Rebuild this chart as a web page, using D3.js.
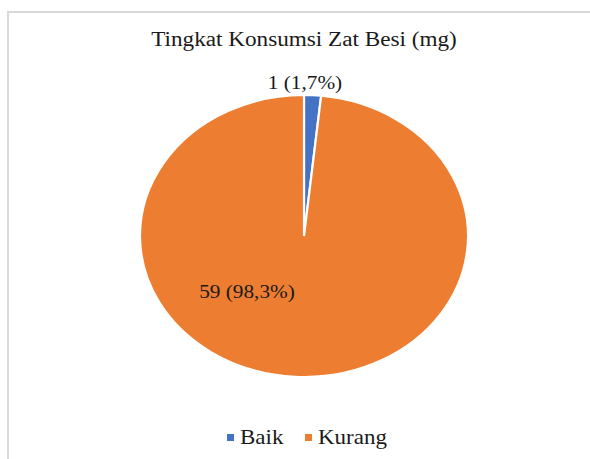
<!DOCTYPE html>
<html><head><meta charset="utf-8">
<script src="https://cdn.jsdelivr.net/npm/d3@7"></script>
<style>body{margin:0;background:#fff}svg{display:block}
text{font-family:"Liberation Serif","DejaVu Serif","Times New Roman",Times,serif}</style>
</head><body>
<svg id="c" width="590" height="459"></svg>
<script>
const title = "Tingkat Konsumsi Zat Besi (mg)";
const categories = ["Baik", "Kurang"];
const values = [1, 59];
const labels = ["1 (1,7%)", "59 (98,3%)"];
const colors = ["#4472C4", "#ED7D31"];

const svg = d3.select("#c");

// chart border
svg.append("rect").attr("x", 8).attr("y", 12).attr("width", 600).attr("height", 460)
  .attr("fill", "none").attr("stroke", "#d9d9d9").attr("stroke-width", 2);

function stretched(sel, x, y, size, sx, anchor) {
  return sel.append("text").attr("x", x).attr("y", y).attr("text-anchor", anchor)
    .attr("font-size", size).attr("fill", "#1a1a1a")
    .attr("transform", `translate(${x},0) scale(${sx},1) translate(${-x},0)`);
}

stretched(svg, 304, 46, 20, 1.16, "middle").text(title);

const cx = 304, cy = 236, rx = 164, ry = 141;
const pie = d3.pie().sort(null).value(d => d)(values);
const arc = d3.arc().innerRadius(0).outerRadius(rx);

const g = svg.append("g").attr("transform", `translate(${cx},${cy}) scale(1,${ry / rx})`);
g.selectAll("path").data(pie).join("path")
  .attr("d", arc)
  .attr("fill", (d, i) => colors[i])
  .attr("stroke", "#fff").attr("stroke-width", 2.2)
  .attr("vector-effect", "non-scaling-stroke");

// labels: first outside the top, second inside (best fit)
const labelPos = [[310, 89], [247, 298]];
labels.forEach((t, i) => stretched(svg, labelPos[i][0] - (i === 0 ? 5 : 0), labelPos[i][1], 19, 1.12, "middle").text(t));

// legend
const legX = [227, 305];
categories.forEach((c, i) => {
  svg.append("rect").attr("x", legX[i]).attr("y", 434).attr("width", 7).attr("height", 7).attr("fill", colors[i]);
  stretched(svg, legX[i] + 13, 444, 20, 1.15, "start").text(c);
});
</script>
</body></html>
